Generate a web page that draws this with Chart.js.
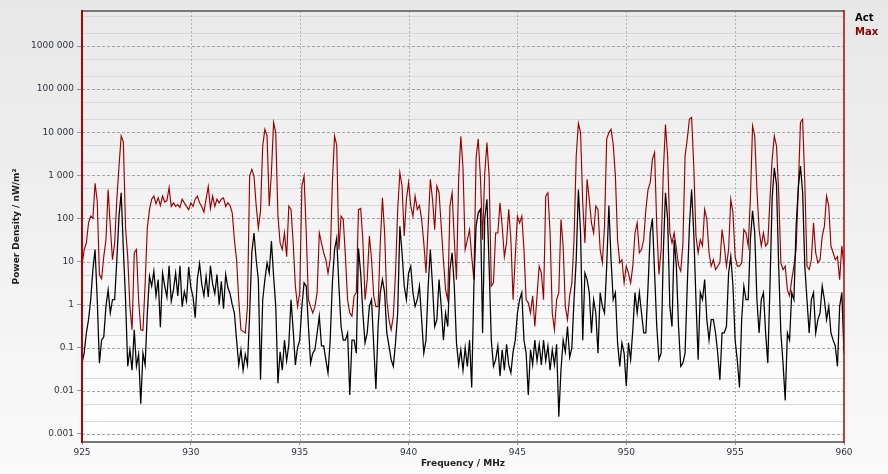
<!DOCTYPE html>
<html>
<head>
<meta charset="utf-8">
<script src="https://cdn.jsdelivr.net/npm/chart.js@4.4.0/dist/chart.umd.min.js"></script>
<style>
    html, body { margin: 0; padding: 0; }
    body {
        width: 888px; height: 474px; position: relative; overflow: hidden;
        background: linear-gradient(#e7e7e7, #fafafa);
    }
    #wrap { position: absolute; left: 0; top: 0; width: 888px; height: 474px; }
    .lg { position: absolute; left: 855px; font: bold 10px "DejaVu Sans", sans-serif; }
</style>
</head>
<body>
<div id="wrap"><canvas id="spectrum" width="888" height="474"></canvas></div>
<div class="lg" style="top:12px;color:#000">Act</div>
<div class="lg" style="top:26px;color:#8b0000">Max</div>
<script>
// frequency sweep, MHz
const freqs = [
    925.0, 925.1, 925.2, 925.3, 925.4, 925.5, 925.6, 925.7, 925.8, 925.9,
    926.0, 926.1, 926.2, 926.3, 926.4, 926.5, 926.6, 926.7, 926.8, 926.9,
    927.0, 927.1, 927.2, 927.3, 927.4, 927.5, 927.6, 927.7, 927.8, 927.9,
    928.0, 928.1, 928.2, 928.3, 928.4, 928.5, 928.6, 928.7, 928.8, 928.9,
    929.0, 929.1, 929.2, 929.3, 929.4, 929.5, 929.6, 929.7, 929.8, 929.9,
    930.0, 930.1, 930.2, 930.3, 930.4, 930.5, 930.6, 930.7, 930.8, 930.9,
    931.0, 931.1, 931.2, 931.3, 931.4, 931.5, 931.6, 931.7, 931.8, 931.9,
    932.0, 932.1, 932.2, 932.3, 932.4, 932.5, 932.6, 932.7, 932.8, 932.9,
    933.0, 933.1, 933.2, 933.3, 933.4, 933.5, 933.6, 933.7, 933.8, 933.9,
    934.0, 934.1, 934.2, 934.3, 934.4, 934.5, 934.6, 934.7, 934.8, 934.9,
    935.0, 935.1, 935.2, 935.3, 935.4, 935.5, 935.6, 935.7, 935.8, 935.9,
    936.0, 936.1, 936.2, 936.3, 936.4, 936.5, 936.6, 936.7, 936.8, 936.9,
    937.0, 937.1, 937.2, 937.3, 937.4, 937.5, 937.6, 937.7, 937.8, 937.9,
    938.0, 938.1, 938.2, 938.3, 938.4, 938.5, 938.6, 938.7, 938.8, 938.9,
    939.0, 939.1, 939.2, 939.3, 939.4, 939.5, 939.6, 939.7, 939.8, 939.9,
    940.0, 940.1, 940.2, 940.3, 940.4, 940.5, 940.6, 940.7, 940.8, 940.9,
    941.0, 941.1, 941.2, 941.3, 941.4, 941.5, 941.6, 941.7, 941.8, 941.9,
    942.0, 942.1, 942.2, 942.3, 942.4, 942.5, 942.6, 942.7, 942.8, 942.9,
    943.0, 943.1, 943.2, 943.3, 943.4, 943.5, 943.6, 943.7, 943.8, 943.9,
    944.0, 944.1, 944.2, 944.3, 944.4, 944.5, 944.6, 944.7, 944.8, 944.9,
    945.0, 945.1, 945.2, 945.3, 945.4, 945.5, 945.6, 945.7, 945.8, 945.9,
    946.0, 946.1, 946.2, 946.3, 946.4, 946.5, 946.6, 946.7, 946.8, 946.9,
    947.0, 947.1, 947.2, 947.3, 947.4, 947.5, 947.6, 947.7, 947.8, 947.9,
    948.0, 948.1, 948.2, 948.3, 948.4, 948.5, 948.6, 948.7, 948.8, 948.9,
    949.0, 949.1, 949.2, 949.3, 949.4, 949.5, 949.6, 949.7, 949.8, 949.9,
    950.0, 950.1, 950.2, 950.3, 950.4, 950.5, 950.6, 950.7, 950.8, 950.9,
    951.0, 951.1, 951.2, 951.3, 951.4, 951.5, 951.6, 951.7, 951.8, 951.9,
    952.0, 952.1, 952.2, 952.3, 952.4, 952.5, 952.6, 952.7, 952.8, 952.9,
    953.0, 953.1, 953.2, 953.3, 953.4, 953.5, 953.6, 953.7, 953.8, 953.9,
    954.0, 954.1, 954.2, 954.3, 954.4, 954.5, 954.6, 954.7, 954.8, 954.9,
    955.0, 955.1, 955.2, 955.3, 955.4, 955.5, 955.6, 955.7, 955.8, 955.9,
    956.0, 956.1, 956.2, 956.3, 956.4, 956.5, 956.6, 956.7, 956.8, 956.9,
    957.0, 957.1, 957.2, 957.3, 957.4, 957.5, 957.6, 957.7, 957.8, 957.9,
    958.0, 958.1, 958.2, 958.3, 958.4, 958.5, 958.6, 958.7, 958.8, 958.9,
    959.0, 959.1, 959.2, 959.3, 959.4, 959.5, 959.6, 959.7, 959.8, 959.9,
    960.0
]

// max hold trace, nW/m² (one row per MHz)
const maxValues = [
    8, 19, 27, 79, 113, 100, 650, 250, 5, 4,
    13, 32, 470, 66, 11, 27, 277, 1650, 8200, 6000,
    60, 13, 0.9, 0.26, 16, 19, 1.3, 0.26, 0.25, 3,
    60, 160, 280, 330, 220, 300, 200, 330, 240, 260,
    520, 190, 230, 190, 210, 180, 280, 230, 190, 160,
    230, 190, 280, 330, 230, 190, 140, 280, 550, 170,
    330, 190, 280, 230, 280, 300, 190, 230, 200, 135,
    32, 11, 1.3, 0.26, 0.24, 0.22, 0.9, 960, 1380, 960,
    200, 60, 150, 4800, 11700, 8200, 194, 1150, 16800, 9800,
    113, 27, 19, 46, 13, 194, 162, 27, 2.7, 0.9,
    1.9, 565, 960, 46, 1.3, 0.9, 0.64, 0.9, 1.9, 46,
    27, 16, 11, 5.4, 11, 680, 8200, 5000, 19, 113,
    95, 13, 1.3, 0.64, 0.54, 1.6, 1.9, 160, 170, 32,
    1.3, 3.8, 39, 11, 1.6, 0.9, 0.9, 27, 300, 46,
    1.3, 0.45, 0.26, 0.54, 5.4, 160, 1150, 565, 39, 277,
    680, 194, 113, 330, 162, 200, 95, 27, 5.4, 66,
    810, 277, 55, 565, 395, 66, 11, 2.2, 1.3, 194,
    395, 32, 3.8, 810, 8000, 1500, 19, 32, 55, 13,
    3.8, 2500, 7000, 900, 32, 1150, 5750, 960, 2.7, 3.2,
    46, 46, 231, 66, 13, 27, 162, 32, 1.3, 13,
    113, 79, 113, 19, 1.3, 1.1, 0.64, 1.6, 0.31, 1.6,
    7.8, 5.4, 1.3, 330, 395, 46, 0.64, 0.26, 1.3, 1.9,
    95, 23, 0.9, 0.45, 1.6, 3.2, 32, 2800, 16000, 9800,
    231, 27, 810, 277, 79, 46, 194, 160, 19, 9.3,
    66, 6900, 9800, 11700, 5200, 960, 32, 9.3, 11, 3.2,
    7.8, 5.4, 3.2, 7.8, 46, 79, 16, 19, 32, 162,
    470, 680, 2350, 3400, 66, 5, 19, 1150, 15000, 2800,
    46, 27, 46, 20, 8, 6, 25, 2800, 6900, 20000,
    22000, 1650, 39, 16, 32, 23, 162, 95, 16, 7.8,
    11, 6.5, 7.8, 9.3, 55, 23, 7.8, 19, 277, 135,
    13, 7.8, 7.8, 9.3, 55, 46, 23, 277, 14000, 8200,
    470, 55, 23, 46, 23, 27, 277, 2350, 8200, 4800,
    395, 9.3, 6.5, 7.8, 2.2, 1.6, 3.8, 7.8, 19, 470,
    16800, 20000, 680, 7.8, 6.5, 11, 79, 16, 9.3, 11,
    39, 66, 330, 194, 23, 16, 11, 13, 3.8, 23,
    7.8
]

// actual trace, nW/m² (one row per MHz)
const actValues = [
    0.044, 0.075, 0.22, 0.45, 1.3, 6.5, 19, 1.3, 0.044, 0.15,
    0.18, 0.91, 2.2, 0.64, 1.3, 1.3, 11, 113, 395, 19,
    1.3, 0.037, 0.09, 0.03, 0.26, 0.037, 0.07, 0.005, 0.075, 0.04,
    0.64, 4.6, 2.7, 6, 1.6, 3.8, 0.3, 5.4, 2.7, 1.5,
    8, 1.2, 2.2, 5.4, 1.6, 8, 0.9, 2, 1.2, 7.5,
    2.5, 1.5, 0.5, 4, 9, 3, 1.6, 4.5, 1.5, 8,
    3, 1.8, 5, 1, 3.5, 0.8, 5, 2.5, 1.8, 1,
    0.64, 0.15, 0.04, 0.09, 0.03, 0.07, 0.04, 0.6, 16, 46,
    11, 3.8, 0.018, 1.3, 3.8, 9.3, 5.4, 30, 4.6, 0.91,
    0.015, 0.08, 0.03, 0.15, 0.05, 0.12, 1.3, 0.26, 0.04, 0.1,
    0.15, 0.91, 3.2, 2.7, 0.31, 0.044, 0.075, 0.09, 0.22, 0.54,
    0.11, 0.11, 0.053, 0.026, 0.15, 3.2, 19, 35, 2.7, 0.31,
    0.15, 0.15, 0.22, 0.008, 0.15, 0.15, 0.075, 20, 5.4, 0.64,
    0.13, 0.22, 0.91, 1.3, 0.11, 0.011, 0.31, 1.9, 3.8, 1.9,
    0.22, 0.11, 0.053, 0.037, 0.13, 0.64, 66, 16, 2.7, 1.3,
    5.4, 7.8, 1.9, 0.91, 1.3, 2.7, 0.45, 0.075, 0.15, 2.7,
    19, 2.7, 0.31, 0.45, 3.8, 0.91, 0.15, 0.64, 0.31, 6.5,
    16, 2.7, 0.13, 0.04, 0.09, 0.03, 0.1, 0.037, 0.15, 0.012,
    2.7, 66, 135, 162, 0.22, 100, 277, 7.8, 0.15, 0.037,
    0.053, 0.11, 0.022, 0.09, 0.03, 0.12, 0.04, 0.026, 0.08, 0.15,
    0.64, 1.3, 1.9, 0.15, 0.075, 0.008, 0.09, 0.04, 0.15, 0.05,
    0.12, 0.04, 0.15, 0.05, 0.11, 0.03, 0.09, 0.04, 0.12, 0.0025,
    0.03, 0.15, 0.08, 0.31, 0.06, 0.1, 1.3, 11, 470, 46,
    0.15, 5.4, 3.8, 1.9, 0.22, 1.3, 0.64, 0.075, 1.9, 0.91,
    0.64, 7.8, 200, 11, 1.3, 1.9, 0.13, 0.037, 0.13, 0.075,
    0.013, 0.13, 0.053, 0.26, 1.9, 0.64, 1.9, 0.64, 0.22, 0.22,
    2.7, 46, 100, 5.4, 0.31, 0.053, 0.075, 16, 395, 95,
    0.91, 0.31, 32, 7.8, 0.31, 0.037, 0.044, 0.075, 2.7, 66,
    470, 46, 1.3, 0.053, 1.9, 1.3, 3.8, 0.45, 0.15, 0.45,
    0.45, 0.22, 0.075, 0.018, 0.22, 0.22, 0.31, 5.4, 13, 2.7,
    0.15, 0.05, 0.012, 0.45, 2.7, 1.3, 1.3, 32, 150, 46,
    1.3, 0.22, 1.3, 1.9, 0.22, 0.044, 2.7, 300, 1500, 600,
    7.8, 0.22, 0.044, 0.006, 0.22, 0.15, 1.9, 1.3, 66, 500,
    1650, 400, 7.8, 1.3, 0.22, 1.3, 1.9, 0.22, 0.45, 0.64,
    2.7, 1.3, 0.45, 0.91, 0.22, 0.15, 0.11, 0.037, 0.91, 1.9,
    0.075
]

const xTicks = [925, 930, 935, 940, 945, 950, 955, 960]
const yDecades = [0.001, 0.01, 0.1, 1, 10, 100, 1000, 10000, 100000, 1000000]
const yLabels = ["0.001", "0.01", "0.1", "1", "10", "100", "1 000", "10 000", "100 000", "1000 000"]
const yMinor = [0.002, 0.005, 0.02, 0.05, 0.2, 0.5, 2, 5, 20, 50, 200, 500,
    2000, 5000, 20000, 50000, 200000, 500000, 2000000, 5000000]

const tickFont = { family: "DejaVu Sans", size: 9 }
const titleFont = { family: "DejaVu Sans", size: 9, weight: "bold" }

const plotDecor = {
    id: "plotDecor",
    beforeDraw(chart) {
        const { ctx, chartArea: a } = chart
        const g = ctx.createLinearGradient(0, a.top, 0, a.bottom)
        g.addColorStop(0, "#e9e9e9")
        g.addColorStop(1, "#ffffff")
        ctx.save()
        ctx.fillStyle = g
        ctx.fillRect(a.left, a.top, a.right - a.left, a.bottom - a.top)
        ctx.restore()
    },
    beforeDatasetsDraw(chart) {
        const { ctx, chartArea: a, scales } = chart
        const y = scales.y, x = scales.x
        ctx.save()
        ctx.lineWidth = 1
        ctx.strokeStyle = "#d8d8d8"
        yMinor.forEach(v => {
            const py = Math.round(y.getPixelForValue(v)) + 0.5
            ctx.beginPath(); ctx.moveTo(a.left, py); ctx.lineTo(a.right, py); ctx.stroke()
        })
        ctx.setLineDash([3, 2])
        ctx.strokeStyle = "#a4a4a4"
        yDecades.forEach(v => {
            const py = Math.round(y.getPixelForValue(v)) + 0.5
            ctx.beginPath(); ctx.moveTo(a.left, py); ctx.lineTo(a.right, py); ctx.stroke()
        })
        ctx.setLineDash([2, 2])
        ctx.strokeStyle = "#b0b0b0"
        xTicks.slice(1, -1).forEach(v => {
            const px = Math.round(x.getPixelForValue(v)) + 0.5
            ctx.beginPath(); ctx.moveTo(px, a.top); ctx.lineTo(px, a.bottom); ctx.stroke()
        })
        ctx.restore()
    },
    afterDatasetsDraw(chart) {
        const { ctx, chartArea: a } = chart
        ctx.save()
        ctx.lineWidth = 2
        ctx.strokeStyle = "#777"
        ctx.beginPath(); ctx.moveTo(a.left, a.top); ctx.lineTo(a.right, a.top); ctx.stroke()
        ctx.beginPath(); ctx.moveTo(a.left, a.bottom); ctx.lineTo(a.right, a.bottom); ctx.stroke()
        ctx.strokeStyle = "#b40000"
        ctx.beginPath(); ctx.moveTo(a.left, a.top - 1); ctx.lineTo(a.left, a.bottom + 1); ctx.stroke()
        ctx.lineWidth = 1.5
        ctx.beginPath(); ctx.moveTo(a.right, a.top - 1); ctx.lineTo(a.right, a.bottom + 1); ctx.stroke()
        ctx.restore()
    }
}

function toPoints(values) {
    return freqs.map((f, i) => ({ x: f, y: values[i] }))
}

const config = {
    type: "line",
    data: {
        datasets: [{
            label: "Act",
            data: toPoints(actValues),
            borderColor: "#000000",
            borderWidth: 1.25,
            pointRadius: 0,
            tension: 0
        }, {
            label: "Max",
            data: toPoints(maxValues),
            borderColor: "#9b0000",
            borderWidth: 1.15,
            pointRadius: 0,
            tension: 0
        }]
    },
    options: {
        responsive: false,
        animation: false,
        devicePixelRatio: 1,
        layout: { padding: { left: 0, right: 44, top: 11, bottom: 0 } },
        plugins: { legend: { display: false }, tooltip: { enabled: false } },
        scales: {
            x: {
                type: "linear",
                min: 925,
                max: 960,
                afterBuildTicks: s => { s.ticks = xTicks.map(v => ({ value: v })) },
                afterFit: s => { s.height = 32 },
                grid: { drawOnChartArea: false, tickLength: 3, color: "#999", tickColor: "#999" },
                border: { display: false },
                ticks: { font: tickFont, color: "#333340", padding: 2, maxRotation: 0 },
                title: { display: true, text: "Frequency / MHz", font: titleFont, color: "#222", padding: { top: 0, bottom: 5 } }
            },
            y: {
                type: "logarithmic",
                min: 0.00065,
                max: 6500000,
                afterBuildTicks: s => { s.ticks = yDecades.map(v => ({ value: v })) },
                afterFit: s => { s.width = 82 },
                grid: { drawOnChartArea: false, tickLength: 5, color: "#999", tickColor: "#999" },
                border: { display: false },
                ticks: {
                    font: tickFont,
                    color: "#333340",
                    padding: 3,
                    callback: (v, i) => yLabels[i]
                },
                title: { display: true, text: "Power Density / nW/m²", font: titleFont, color: "#222", padding: { top: 11, bottom: 0 } }
            }
        }
    },
    plugins: [plotDecor]
}

new Chart(document.querySelector("#spectrum"), config)
</script>
</body>
</html>
